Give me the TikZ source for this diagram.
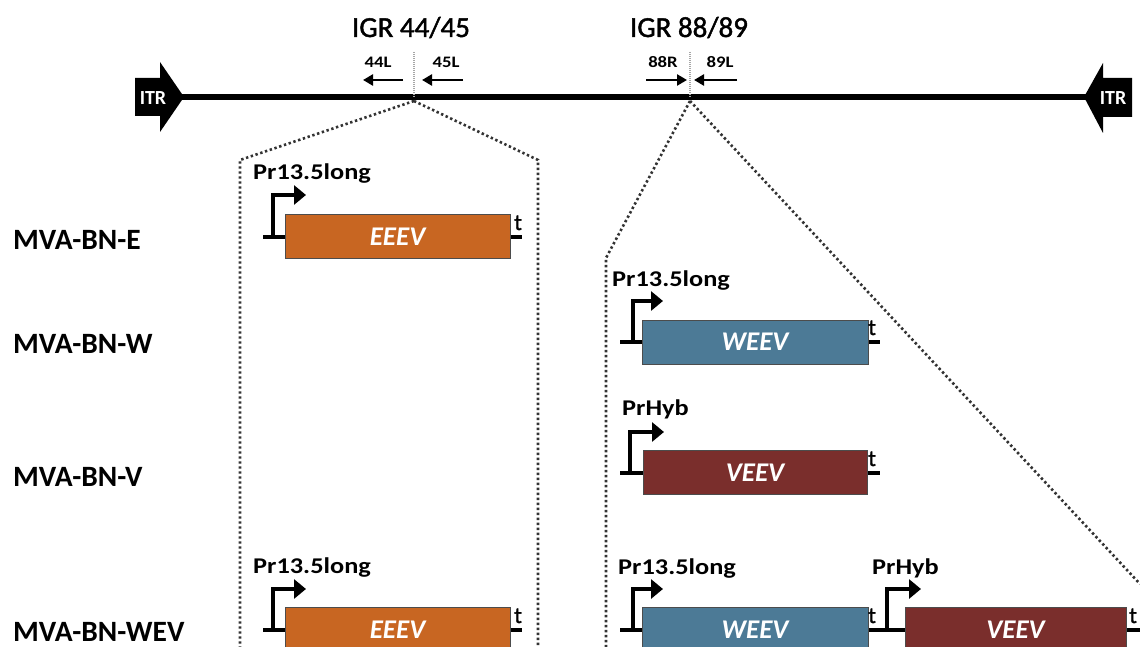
\documentclass[tikz,border=0pt]{standalone}
\usepackage{fontspec}
\setmainfont{Carlito}
\newfontfamily\widefont{Carlito}[FakeStretch=1.17]
\newfontfamily\headfont{Carlito}[FakeBold=1.5]
\usetikzlibrary{arrows.meta}
\definecolor{eeevcol}{RGB}{200,102,34}
\definecolor{weevcol}{RGB}{76,122,150}
\definecolor{veevcol}{RGB}{122,46,44}
\begin{document}
\begin{tikzpicture}[x=1pt,y=-1pt,
  rowlabel/.style={anchor=base west,inner sep=0,font=\fontsize{29.5}{31}\selectfont\bfseries},
  igrlabel/.style={anchor=base,inner sep=0,font=\headfont\fontsize{29}{31}\selectfont},
  sitelabel/.style={anchor=base,inner sep=0,font=\widefont\fontsize{16}{18}\selectfont\bfseries},
  promlabel/.style={anchor=base west,inner sep=0,font=\widefont\fontsize{22.5}{24}\selectfont\bfseries},
  termlabel/.style={anchor=base west,inner sep=0,font=\headfont\fontsize{23}{24}\selectfont},
  gene/.style={draw=black!70,line width=0.9pt,minimum height=44pt,inner sep=0,
    text=white,font=\fontsize{27}{29}\selectfont\bfseries\itshape},
  zoomline/.style={draw=black!80,line width=2.6pt,dash pattern=on 2.4pt off 2.6pt},
  igrmark/.style={draw=black!35,line width=1.6pt,dash pattern=on 1pt off 1pt},
  genome/.style={line width=6pt},
  backbone/.style={line width=4pt},
  promarrow/.style={line width=3.5pt,-{Triangle[length=12pt,width=19pt]}},
  sitearrow/.style={line width=2.6pt,-{Triangle[length=10pt,width=11pt]}},
  itr/.style={fill=black},
  itrtext/.style={text=white,inner sep=0,font=\fontsize{20}{21}\selectfont\bfseries}]
\useasboundingbox (0,0) rectangle (1140,647);

% genome backbone with the two inverted terminal repeats
\coordinate (gL) at (165,97);
\coordinate (gR) at (1100,97);
\draw[genome] (gL) -- (gR);
\fill[itr] (135,78) -- (160,78) -- (160,62) -- (184,97) -- (160,132) -- (160,116) -- (135,116) -- cycle;
\fill[itr] (1132,78) -- (1103,78) -- (1103,63) -- (1084,97) -- (1103,133) -- (1103,117) -- (1132,117) -- cycle;
\node[itrtext] (itrL) at (153,98) {ITR};
\node[itrtext] (itrR) at (1113,98) {ITR};

% insertion sites
\node[igrlabel] (igrA) at (411,37) {IGR 44/45};
\node[igrlabel] (igrB) at (689,37) {IGR 88/89};
\coordinate (sA) at (414,97);
\coordinate (sB) at (690,97);
\coordinate (sAtop) at (414,52);
\coordinate (sBtop) at (690,52);
\draw[igrmark] (sAtop) -- (sA);
\draw[igrmark] (sBtop) -- (sB);

\node[sitelabel] (l44) at (378,68) {44L};
\node[sitelabel] (l45) at (446,68) {45L};
\node[sitelabel] (r88) at (663,68) {88R};
\node[sitelabel] (l89) at (720,68) {89L};
\coordinate (a44s) at (403,80); \coordinate (a44e) at (363,80);
\coordinate (a45s) at (463,80); \coordinate (a45e) at (422,80);
\coordinate (a88s) at (646,80); \coordinate (a88e) at (687,80);
\coordinate (a89s) at (737,80); \coordinate (a89e) at (694,80);
\draw[sitearrow] (a44s) -- (a44e);
\draw[sitearrow] (a45s) -- (a45e);
\draw[sitearrow] (a88s) -- (a88e);
\draw[sitearrow] (a89s) -- (a89e);

% zoom-out frames from each site
\coordinate (zA) at (414,101);
\coordinate (zB) at (690,101);
\coordinate (zA1) at (240,160); \coordinate (zA1b) at (240,647);
\coordinate (zA2) at (538,160); \coordinate (zA2b) at (538,647);
\coordinate (zB1) at (606,258); \coordinate (zB1b) at (606,647);
\coordinate (zB2) at (1140,584);
\draw[zoomline] (zA) -- (zA1) -- (zA1b);
\draw[zoomline] (zA) -- (zA2) -- (zA2b);
\draw[zoomline] (zB) -- (zB1) -- (zB1b);
\draw[zoomline] (zB) -- (zB2);

% row labels
\node[rowlabel] (rowE) at (13,249) {MVA-BN-E};
\node[rowlabel] (rowW) at (13,353) {MVA-BN-W};
\node[rowlabel] (rowV) at (13,486) {MVA-BN-V};
\node[rowlabel] (rowWEV) at (13,641) {MVA-BN-WEV};

% MVA-BN-E
\coordinate (e1s) at (263,237); \coordinate (e1e) at (522,237);
\draw[backbone] (e1s) -- (e1e);
\node[gene,fill=eeevcol,minimum width=225pt] (eeev1) at (397.5,236.5) {EEEV};
\coordinate (p1) at (273,237); \coordinate (p1t) at (306,195);
\draw[promarrow] (p1) |- (p1t);
\node[promlabel] (pl1) at (253,180) {Pr13.5long};
\node[termlabel] (t1) at (514,230) {t};

% MVA-BN-W
\coordinate (w2s) at (620,342); \coordinate (w2e) at (880,342);
\draw[backbone] (w2s) -- (w2e);
\node[gene,fill=weevcol,minimum width=226pt] (weev2) at (755,342) {WEEV};
\coordinate (p2) at (633,342); \coordinate (p2t) at (663,301);
\draw[promarrow] (p2) |- (p2t);
\node[promlabel] (pl2) at (612,286) {Pr13.5long};
\node[termlabel] (t2) at (868,335) {t};

% MVA-BN-V
\coordinate (v3s) at (620,473); \coordinate (v3e) at (880,473);
\draw[backbone] (v3s) -- (v3e);
\node[gene,fill=veevcol,minimum width=224pt] (veev3) at (755,472.5) {VEEV};
\coordinate (p3) at (630,473); \coordinate (p3t) at (664,432);
\draw[promarrow] (p3) |- (p3t);
\node[promlabel] (pl3) at (622,415) {PrHyb};
\node[termlabel] (t3) at (868,466) {t};

% MVA-BN-WEV
\coordinate (x4s) at (263,630); \coordinate (x4e) at (522,630);
\draw[backbone] (x4s) -- (x4e);
\node[gene,fill=eeevcol,minimum width=225pt] (eeev4) at (397.5,629.5) {EEEV};
\coordinate (p4) at (273,630); \coordinate (p4t) at (306,589);
\draw[promarrow] (p4) |- (p4t);
\node[promlabel] (pl4) at (253,573) {Pr13.5long};
\node[termlabel] (t4) at (514,623) {t};

\coordinate (y4s) at (620,630); \coordinate (y4e) at (1140,630);
\draw[backbone] (y4s) -- (y4e);
\node[gene,fill=weevcol,minimum width=226pt] (weev4) at (755,629.5) {WEEV};
\node[gene,fill=veevcol,minimum width=221pt] (veev4) at (1015.5,629.5) {VEEV};
\coordinate (p5) at (633,630); \coordinate (p5t) at (663,589);
\draw[promarrow] (p5) |- (p5t);
\node[promlabel] (pl5) at (618,574) {Pr13.5long};
\node[termlabel] (t5) at (868,623) {t};
\coordinate (p6) at (887,630); \coordinate (p6t) at (921,589);
\draw[promarrow] (p6) |- (p6t);
\node[promlabel] (pl6) at (872,574) {PrHyb};
\node[termlabel] (t6) at (1129,623) {t};
\end{tikzpicture}
\end{document}
